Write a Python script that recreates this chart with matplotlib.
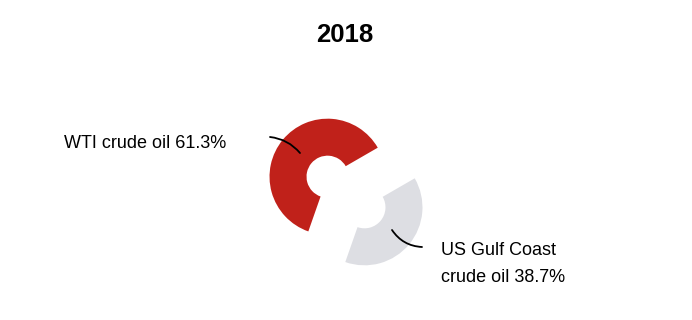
import matplotlib
matplotlib.use("Agg")
from matplotlib import pyplot as plt

# data
labels = ["WTI crude oil 61.3%", "US Gulf Coast\ncrude oil 38.7%"]
shares = [61.3, 38.7]
colors = ["#C0211A", "#DDDEE3"]
title = "2018"

W, H = 692, 320


def main():
    plt.rcParams["font.family"] = ["Liberation Sans", "DejaVu Sans"]
    fig = plt.figure(figsize=(W / 100, H / 100), dpi=100)
    ax = fig.add_axes([0, 0, 1, 1])

    # pie drawn in pixel-like coords, y measured up from the bottom
    ax.pie(shares, colors=colors, startangle=30, counterclock=True,
           explode=[24, 24], radius=58, center=(346, H - 192),
           wedgeprops=dict(width=37, linewidth=0))
    ax.set_xlim(0, W)
    ax.set_ylim(0, H)
    ax.set_aspect("equal")
    ax.axis("off")

    ax.text(345, H - 35, title, ha="center", va="center",
            fontsize=18.5, fontweight="bold")

    ax.text(64, H - 143, labels[0], ha="left", va="center", fontsize=13)
    ax.text(441, H - 264, labels[1], ha="left", va="center", fontsize=13,
            linespacing=1.75)

    line = dict(arrowstyle="-", color="black", lw=1.3, shrinkA=0, shrinkB=0)
    ax.annotate("", xy=(300, H - 153), xytext=(270, H - 137),
                arrowprops=dict(line, connectionstyle="arc3,rad=-0.2"))
    ax.annotate("", xy=(422, H - 247), xytext=(392, H - 230),
                arrowprops=dict(line, connectionstyle="arc3,rad=0.25"))

    fig.savefig("out.png", dpi=100)


if __name__ == "__main__":
    main()
